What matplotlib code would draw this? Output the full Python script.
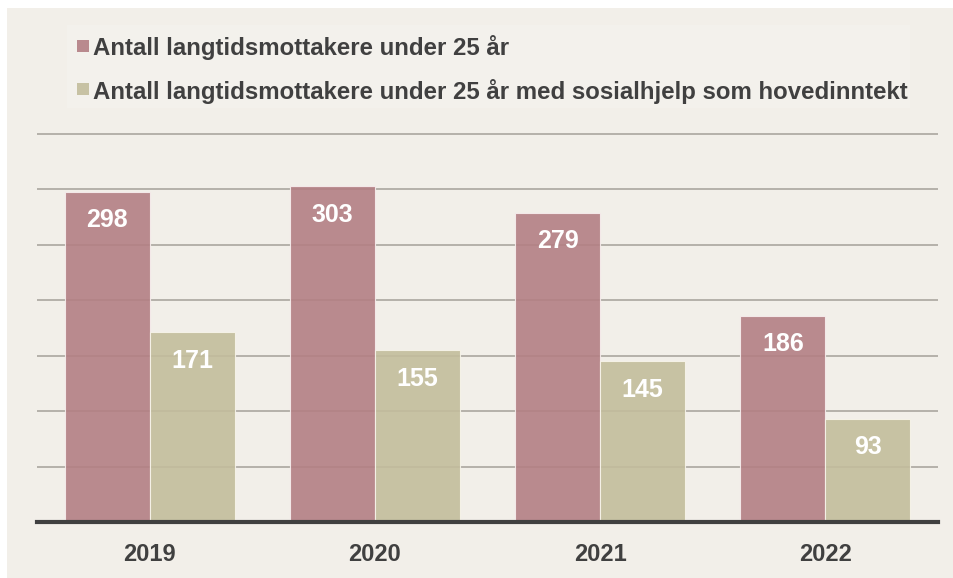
import numpy as np
import matplotlib
matplotlib.use("Agg")
import matplotlib.pyplot as plt
from matplotlib.patches import Rectangle

years = ["2019", "2020", "2021", "2022"]
under25 = [298, 303, 279, 186]
under25_sosialhjelp = [171, 155, 145, 93]
series_labels = [
    "Antall langtidsmottakere under 25 år",
    "Antall langtidsmottakere under 25 år med sosialhjelp som hovedinntekt",
]

bg = "#f2efe9"
pink = "#b37f84"
beige = "#c3bd9c"
dark = "#404040"

plt.rcParams["font.family"] = ["Liberation Sans", "DejaVu Sans"]

W, H = 954, 578
fig = plt.figure(figsize=(W / 100, H / 100), dpi=100)
fig.patch.set_facecolor("white")


def px_box(x0, y0, x1, y1):
    # pixel box (from top-left) -> figure fraction rect
    return (x0 / W, 1 - y1 / H), (x1 - x0) / W, (y1 - y0) / H


xy, bw, bh = px_box(7, 8, W, H)
fig.add_artist(Rectangle(xy, bw, bh, transform=fig.transFigure,
                         facecolor=bg, edgecolor="none", zorder=0))

# legend, drawn by hand
xy, bw, bh = px_box(67, 25, 910, 108)
fig.add_artist(Rectangle(xy, bw, bh, transform=fig.transFigure,
                         facecolor="#f3f1ec", edgecolor="none", zorder=1))
for label, col, yc in zip(series_labels, [pink, beige], [45.5, 88.5]):
    xy, bw, bh = px_box(77, yc - 6, 89, yc + 6)
    fig.add_artist(Rectangle(xy, bw, bh, transform=fig.transFigure,
                             facecolor=col, alpha=0.9, edgecolor="none", zorder=2))
    fig.text(93 / W, 1 - yc / H, label, ha="left", va="center_baseline",
             fontsize=17.25, fontweight="bold", color=dark, zorder=2)

ax = fig.add_axes([37 / W, 1 - 522 / H, 901 / W, (522 - 131.8) / H])
ax.set_facecolor("none")

x = np.arange(len(years))
w = 0.377
b1 = ax.bar(x - w / 2, under25, w, color=pink, alpha=0.9, edgecolor="#f7eeee", linewidth=0.8, zorder=3)
b2 = ax.bar(x + w / 2, under25_sosialhjelp, w, color=beige, alpha=0.9, edgecolor="#f7f4ea", linewidth=0.8, zorder=3)

for bars in (b1, b2):
    for rect in bars:
        h = rect.get_height()
        ax.annotate(f"{h:.0f}", (rect.get_x() + rect.get_width() / 2, h),
                    xytext=(0, -20.5), textcoords="offset points",
                    ha="center", va="center", color="white",
                    fontsize=18, fontweight="bold", zorder=4)

ax.set_xlim(-0.5, len(years) - 0.5)
ax.set_ylim(0, 352)
ax.set_yticks(np.arange(50, 351, 50))
ax.yaxis.grid(True, color="#b0aca5", linewidth=1.3, zorder=0)
ax.tick_params(axis="y", left=False, labelleft=False)
ax.set_xticks(x)
ax.set_xticklabels(years, fontsize=17, fontweight="bold", color=dark)
ax.tick_params(axis="x", length=0, pad=15)
for s in ("top", "right", "left"):
    ax.spines[s].set_visible(False)
ax.spines["bottom"].set_color(dark)
ax.spines["bottom"].set_linewidth(3)
ax.spines["bottom"].set_zorder(5)

plt.savefig("out.png", dpi=100, facecolor=fig.get_facecolor())
plt.close()
